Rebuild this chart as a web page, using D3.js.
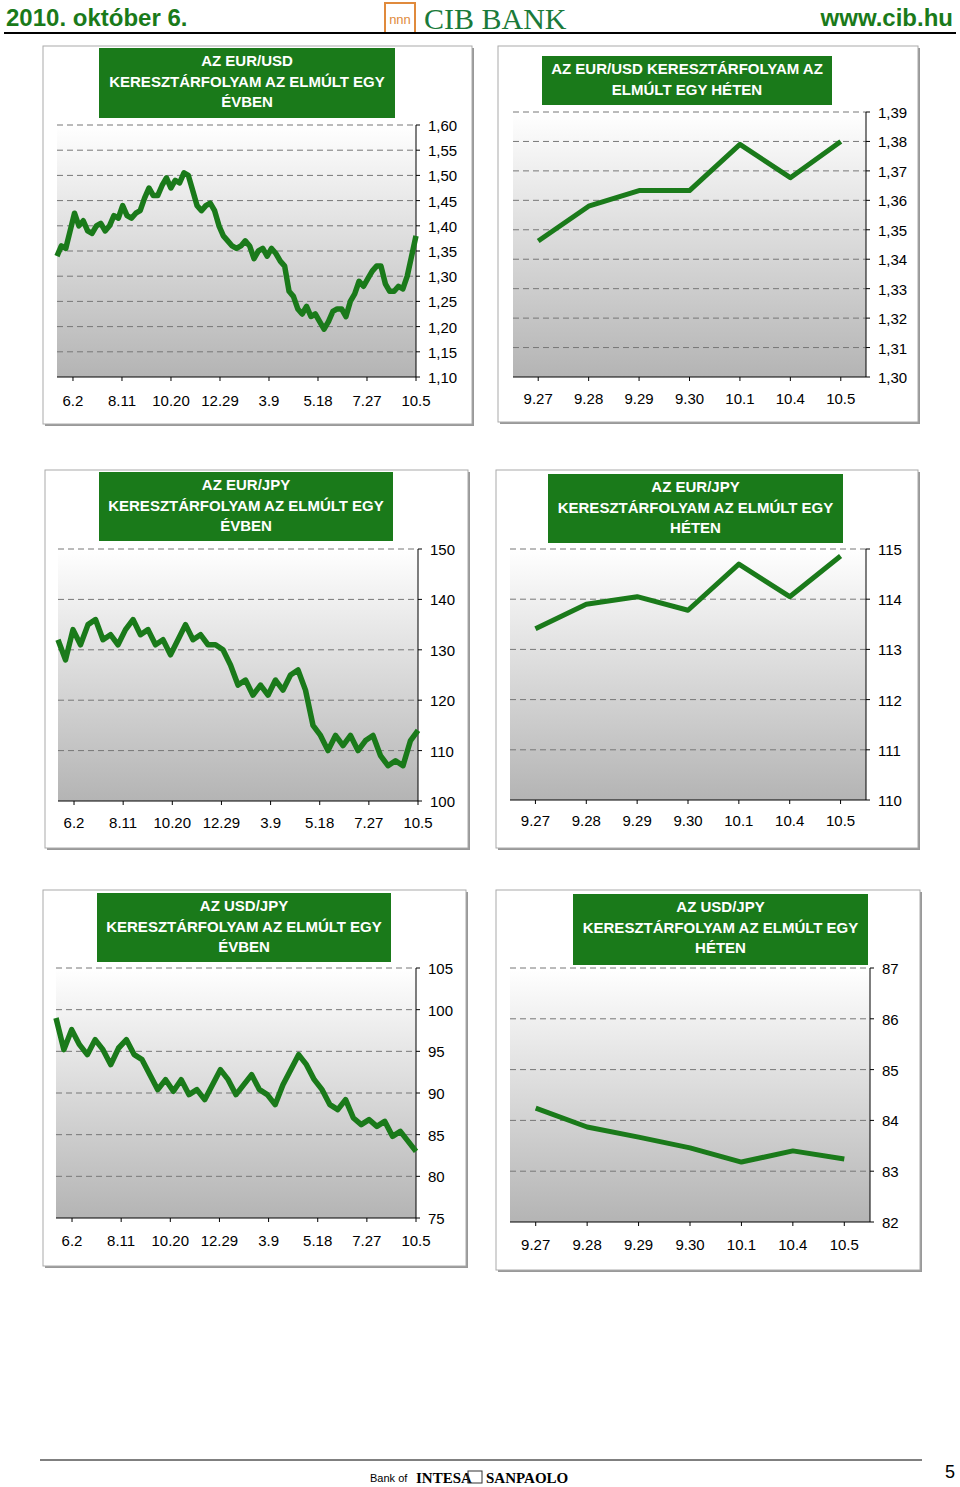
<!DOCTYPE html>
<html><head><meta charset="utf-8">
<script src="https://cdn.jsdelivr.net/npm/d3@7"></script>
<style>body{margin:0;background:#fff}svg{display:block;font-family:"Liberation Sans",Arial,sans-serif}</style>
</head><body>
<svg id="c" width="960" height="1487"></svg>
<script>
const yearTicks = ["6.2","8.11","10.20","12.29","3.9","5.18","7.27","10.5"];
const weekTicks = ["9.27","9.28","9.29","9.30","10.1","10.4","10.5"];
const eurusdYear = [1.34,1.36,1.355,1.39,1.425,1.40,1.41,1.39,1.385,1.40,1.405,1.39,1.40,1.42,1.415,1.44,1.42,1.415,1.425,1.43,1.455,1.475,1.46,1.46,1.48,1.495,1.475,1.49,1.485,1.505,1.50,1.47,1.44,1.43,1.44,1.445,1.43,1.40,1.38,1.37,1.36,1.355,1.36,1.37,1.36,1.335,1.35,1.355,1.34,1.355,1.345,1.33,1.32,1.27,1.26,1.235,1.225,1.24,1.22,1.225,1.21,1.195,1.21,1.23,1.235,1.235,1.22,1.25,1.265,1.29,1.28,1.295,1.31,1.32,1.32,1.285,1.27,1.27,1.28,1.275,1.30,1.34,1.38];
const eurjpyYear = [132,128,134,131,135,136,132,133,131,134,136,133,134,131,132,129,132,135,132,133,131,131,130,127,123,124,121,123,121,124,122,125,126,122,115,113,110,113,111,113,110,112,113,109,107,108,107,112,114];
const usdjpyYear = [99,95.2,97.6,95.8,94.6,96.4,95.2,93.4,95.4,96.4,94.6,94,92.2,90.4,91.6,90.2,91.6,89.8,90.4,89.2,91,92.8,91.6,89.8,91,92.2,90.4,89.8,88.6,91,92.8,94.6,93.4,91.6,90.4,88.6,88,89.2,87,86.2,86.8,86,86.6,84.8,85.4,84.2,83];
const eurusdWeek = [1.3462,1.358,1.3633,1.3633,1.379,1.3677,1.380];
const eurjpyWeek = [113.41,113.9,114.05,113.78,114.7,114.05,114.86];
const usdjpyWeek = [84.24,83.87,83.67,83.46,83.18,83.40,83.24];
const eurusdYTicks = ["1,10","1,15","1,20","1,25","1,30","1,35","1,40","1,45","1,50","1,55","1,60"];
const eurusdWTicks = ["1,30","1,31","1,32","1,33","1,34","1,35","1,36","1,37","1,38","1,39"];
const eurjpyYTicks = ["100","110","120","130","140","150"];
const eurjpyWTicks = ["110","111","112","113","114","115"];
const usdjpyYTicks = ["75","80","85","90","95","100","105"];
const usdjpyWTicks = ["82","83","84","85","86","87"];

const svg = d3.select("#c");
const green = "#1a7a1a";
const defs = svg.append("defs");
const g = defs.append("linearGradient").attr("id","bg").attr("x1",0).attr("y1",0).attr("x2",0).attr("y2",1);
g.append("stop").attr("offset","0%").attr("stop-color","#ffffff");
g.append("stop").attr("offset","100%").attr("stop-color","#b4b4b4");

// header
svg.append("text").attr("x",6).attr("y",26).attr("fill",green).attr("font-size",24).attr("font-weight","bold").text("2010. október 6.");
svg.append("text").attr("x",953).attr("y",26).attr("text-anchor","end").attr("fill",green).attr("font-size",24).attr("font-weight","bold").text("www.cib.hu");
svg.append("rect").attr("x",385).attr("y",3).attr("width",30).attr("height",30).attr("fill","#fff").attr("stroke","#e08a3c").attr("stroke-width",2);
svg.append("text").attr("x",400).attr("y",24).attr("text-anchor","middle").attr("fill","#e08a3c").attr("font-size",13).text("nnn");
svg.append("text").attr("x",424).attr("y",29).attr("fill","#1a7a3a").attr("font-size",30).attr("font-family","Liberation Serif, serif").text("CIB BANK");
svg.append("line").attr("x1",4).attr("x2",956).attr("y1",33).attr("y2",33).attr("stroke","#000").attr("stroke-width",2);
// footer
svg.append("line").attr("x1",40).attr("x2",922).attr("y1",1460).attr("y2",1460).attr("stroke","#000").attr("stroke-width",1);
svg.append("text").attr("x",370).attr("y",1482).attr("font-size",11).text("Bank of");
svg.append("text").attr("x",416).attr("y",1483).attr("font-size",15).attr("font-weight","bold").attr("font-family","Liberation Serif, serif").text("INTESA");
svg.append("rect").attr("x",468).attr("y",1471).attr("width",14).attr("height",12).attr("fill","none").attr("stroke","#333");
svg.append("text").attr("x",486).attr("y",1483).attr("font-size",15).attr("font-weight","bold").attr("font-family","Liberation Serif, serif").text("SANPAOLO");
svg.append("text").attr("x",955).attr("y",1478).attr("text-anchor","end").attr("font-size",18).text("5");

function chart(o){
  const fr = svg.append("g");
  fr.append("rect").attr("x",o.f[0]+2).attr("y",o.f[1]+2).attr("width",o.f[2]-o.f[0]).attr("height",o.f[3]-o.f[1]).attr("fill","#999");
  fr.append("rect").attr("x",o.f[0]).attr("y",o.f[1]).attr("width",o.f[2]-o.f[0]).attr("height",o.f[3]-o.f[1]).attr("fill","#fff").attr("stroke","#aaa");
  const [x0,x1,y0,y1] = o.p;
  const n = o.ticks.length;
  const ydom = [+o.yt[0].replace(",","."), +o.yt[o.yt.length-1].replace(",",".")];
  const y = d3.scaleLinear().domain(ydom).range([y1,y0]);
  fr.append("rect").attr("x",x0).attr("y",y0).attr("width",x1-x0).attr("height",y1-y0).attr("fill","url(#bg)");
  o.yt.forEach((t,i)=>{
    const v = +t.replace(",",".");
    if(i>0) fr.append("line").attr("x1",x0).attr("x2",x1).attr("y1",y(v)).attr("y2",y(v)).attr("stroke","#777").attr("stroke-dasharray","6,4");
    fr.append("line").attr("x1",x1).attr("x2",x1+4).attr("y1",y(v)).attr("y2",y(v)).attr("stroke","#000");
    fr.append("text").attr("x",x1+12).attr("y",y(v)+o.ly).attr("font-size",15).text(t);
  });
  fr.append("line").attr("x1",x1).attr("x2",x1).attr("y1",y0).attr("y2",y1).attr("stroke","#000");
  fr.append("line").attr("x1",x0).attr("x2",x1).attr("y1",y1).attr("y2",y1).attr("stroke","#000");
  let x, tickPos;
  if(o.weekly){
    x = d3.scalePoint().domain(o.ticks).range([x0,x1]).padding(0.5);
    tickPos = o.ticks.map(t=>x(t));
  } else {
    x = d3.scaleLinear().domain([0,1]).range([x0,x1]);
    tickPos = o.ticks.map((t,i)=>x(1-(n-1-i)*0.1365));
  }
  o.ticks.forEach((t,i)=>{
    fr.append("line").attr("x1",tickPos[i]).attr("x2",tickPos[i]).attr("y1",y1).attr("y2",y1+4).attr("stroke","#000");
    fr.append("text").attr("x",tickPos[i]).attr("y",y1+o.lx).attr("text-anchor","middle").attr("font-size",15).text(t);
  });
  const line = d3.line()
    .x((d,i)=> o.weekly ? x(o.ticks[i]) : x(i/(o.data.length-1)))
    .y(d=>y(d));
  fr.append("path").datum(o.data).attr("d",line).attr("fill","none").attr("stroke",green).attr("stroke-width",o.weekly?5:5.5).attr("stroke-linejoin","round");
  const [tx0,ty0,tx1,ty1] = o.t;
  fr.append("rect").attr("x",tx0).attr("y",ty0).attr("width",tx1-tx0).attr("height",ty1-ty0).attr("fill",green);
  o.title.forEach((s,i)=>fr.append("text").attr("x",(tx0+tx1)/2).attr("y",ty0+18+i*20.5).attr("text-anchor","middle").attr("fill","#fff").attr("font-size",15).attr("font-weight","bold").text(s));
}

chart({f:[43,46,472,424],p:[57,416,125,377],t:[99,48,395,118],title:["AZ EUR/USD","KERESZTÁRFOLYAM AZ ELMÚLT EGY","ÉVBEN"],yt:eurusdYTicks,ticks:yearTicks,data:eurusdYear,lx:29,ly:6});
chart({f:[498,46,918,422],p:[513,866,112,377],t:[542,56,832,105],title:["AZ EUR/USD KERESZTÁRFOLYAM AZ","ELMÚLT EGY HÉTEN"],yt:eurusdWTicks,ticks:weekTicks,data:eurusdWeek,weekly:true,lx:27,ly:6});
chart({f:[45,470,468,848],p:[58,418,549,801],t:[99,472,393,541],title:["AZ EUR/JPY","KERESZTÁRFOLYAM AZ ELMÚLT EGY","ÉVBEN"],yt:eurjpyYTicks,ticks:yearTicks,data:eurjpyYear,lx:27,ly:6});
chart({f:[496,470,918,848],p:[510,866,549,800],t:[548,474,843,543],title:["AZ EUR/JPY","KERESZTÁRFOLYAM AZ ELMÚLT EGY","HÉTEN"],yt:eurjpyWTicks,ticks:weekTicks,data:eurjpyWeek,weekly:true,lx:26,ly:6});
chart({f:[43,890,466,1266],p:[56,416,968,1218],t:[97,893,391,962],title:["AZ USD/JPY","KERESZTÁRFOLYAM AZ ELMÚLT EGY","ÉVBEN"],yt:usdjpyYTicks,ticks:yearTicks,data:usdjpyYear,lx:28,ly:6});
chart({f:[496,890,920,1270],p:[510,870,968,1222],t:[573,894,868,965],title:["AZ USD/JPY","KERESZTÁRFOLYAM AZ ELMÚLT EGY","HÉTEN"],yt:usdjpyWTicks,ticks:weekTicks,data:usdjpyWeek,weekly:true,lx:28,ly:6});
</script>
</body></html>
